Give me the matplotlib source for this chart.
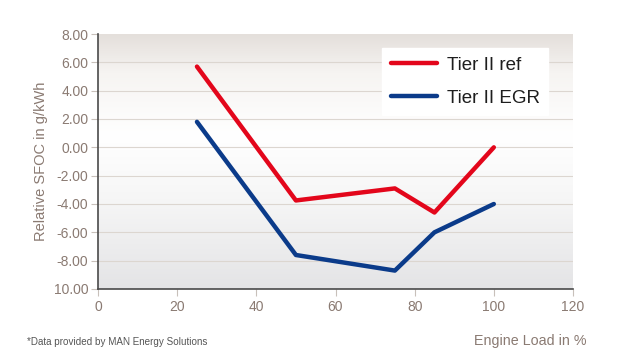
import matplotlib
matplotlib.use("Agg")
import matplotlib.pyplot as plt
import numpy as np
from matplotlib.colors import LinearSegmentedColormap

load = [25, 50, 75, 85, 100]
tier2_ref = [5.7, -3.75, -2.9, -4.6, 0.0]
tier2_egr = [1.8, -7.6, -8.7, -6.0, -4.0]
y_ticks = [8, 6, 4, 2, 0, -2, -4, -6, -8, -10]
y_tick_labels = ["8.00", "6.00", "4.00", "2.00", "0.00", "-2.00", "-4.00", "-6.00", "-8.00", "10.00"]
x_ticks = [0, 20, 40, 60, 80, 100, 120]

plt.rcParams['font.family'] = ['Liberation Sans', 'DejaVu Sans']
txt = '#8a7a72'

fig = plt.figure(figsize=(6.4, 3.6), dpi=100)
ax = fig.add_axes([98/640, 1-289/360, 475/640, 255/360])
ax.set_xlim(0, 120)
ax.set_ylim(-10, 8)

# gradient background
cmap = LinearSegmentedColormap.from_list('bg', [(0.0, '#e4e4e6'), (0.35, '#f6f6f6'), (0.6, '#ffffff'), (0.85, '#f6f4f2'), (1.0, '#e4dfdb')])
grad = np.linspace(0, 1, 256).reshape(-1, 1)
ax.imshow(grad, cmap=cmap, aspect='auto', extent=[0, 1, 0, 1], transform=ax.transAxes, origin='lower', zorder=0)

for y in y_ticks[1:-1]:
    ax.axhline(y, color='#dcd6d0', lw=0.8, zorder=1)

ax.plot(load, tier2_ref, color='#e3061b', lw=3.2, label='Tier II ref', zorder=3, solid_capstyle='round')
ax.plot(load, tier2_egr, color='#0b3b8a', lw=3.2, label='Tier II EGR', zorder=3, solid_capstyle='round')

ax.set_yticks(y_ticks)
ax.set_yticklabels(y_tick_labels)
ax.set_xticks(x_ticks)
ax.tick_params(axis='both', colors='#c8c0ba', labelcolor=txt, labelsize=10, length=5, width=0.8)
ax.tick_params(axis='y', pad=2)
ax.tick_params(axis='x', pad=3)
for s in ['top', 'right']:
    ax.spines[s].set_visible(False)
for s in ['left', 'bottom']:
    ax.spines[s].set_color('#4a4a4a')
    ax.spines[s].set_linewidth(1.2)
    ax.spines[s].set_zorder(4)

ax.set_ylabel('Relative SFOC in g/kWh', color=txt, fontsize=10.5, labelpad=4)

leg = ax.legend(loc='upper right', bbox_to_anchor=(0.948, 0.945), borderaxespad=0, frameon=True, fancybox=False,
                fontsize=13.5, handlelength=2.45, handletextpad=0.55, borderpad=0.45, labelspacing=0.85,
                edgecolor='white', facecolor='white', framealpha=1)
for t in leg.get_texts():
    t.set_color('#1e1e1e')

fig.text(586/640, 1-341/360, 'Engine Load in %', color=txt, fontsize=10.3, ha='right', va='center')
fig.text(27/640, 1-342/360, '*Data provided by MAN Energy Solutions', color='#555555', fontsize=7.1, ha='left', va='center')

fig.savefig('out.png', dpi=100)
